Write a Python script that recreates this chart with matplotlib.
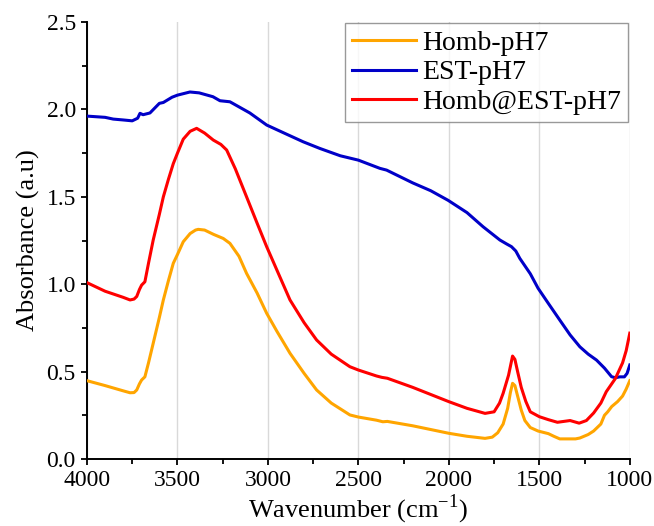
import matplotlib.pyplot as plt
import numpy as np

plt.rcParams['font.family'] = ['Liberation Serif', 'DejaVu Serif']
plt.rcParams['mathtext.fontset'] = 'custom'
plt.rcParams['mathtext.rm'] = 'Liberation Serif'

# Homb-pH7 (orange)
wn_homb = [4000, 3900, 3800, 3762, 3740, 3725, 3710, 3698, 3680, 3660, 3634, 3600,
           3578, 3550, 3523, 3500, 3468, 3430, 3400, 3385, 3350, 3300, 3247, 3210,
           3160, 3118, 3060, 3007, 2950, 2878, 2800, 2731, 2650, 2547, 2500, 2400,
           2365, 2340, 2200, 2000, 1900, 1800, 1760, 1730, 1700, 1675, 1660, 1648,
           1635, 1620, 1600, 1580, 1550, 1507, 1450, 1420, 1387, 1300, 1276, 1230,
           1200, 1160, 1140, 1122, 1100, 1068, 1040, 1020, 1000]
abs_homb = [0.448, 0.42, 0.39, 0.379, 0.38, 0.395, 0.43, 0.452, 0.47, 0.55, 0.662, 0.81,
            0.91, 1.02, 1.12, 1.17, 1.243, 1.29, 1.31, 1.314, 1.31, 1.285, 1.262, 1.234,
            1.16, 1.062, 0.95, 0.834, 0.73, 0.605, 0.49, 0.395, 0.32, 0.252, 0.24, 0.222,
            0.213, 0.215, 0.19, 0.147, 0.13, 0.118, 0.125, 0.15, 0.2, 0.29, 0.38, 0.433,
            0.42, 0.36, 0.28, 0.22, 0.18, 0.16, 0.145, 0.13, 0.115, 0.115, 0.12, 0.14,
            0.16, 0.2, 0.25, 0.27, 0.30, 0.328, 0.36, 0.40, 0.448]

# EST-pH7 (blue)
wn_est = [4000, 3900, 3855, 3800, 3750, 3720, 3707, 3690, 3652, 3600, 3578, 3530,
          3500, 3431, 3380, 3304, 3265, 3210, 3100, 3007, 2900, 2805, 2713, 2600,
          2500, 2381, 2344, 2200, 2100, 2004, 1900, 1811, 1718, 1680, 1654, 1630,
          1608, 1550, 1507, 1450, 1387, 1330, 1276, 1230, 1184, 1140, 1101, 1080,
          1055, 1030, 1015, 1000]
abs_est = [1.962, 1.955, 1.945, 1.94, 1.935, 1.95, 1.978, 1.97, 1.98, 2.035, 2.04, 2.07,
           2.082, 2.10, 2.095, 2.073, 2.05, 2.044, 1.98, 1.911, 1.86, 1.815, 1.777, 1.735,
           1.71, 1.663, 1.653, 1.58, 1.535, 1.48, 1.41, 1.329, 1.253, 1.23, 1.215, 1.19,
           1.148, 1.06, 0.977, 0.89, 0.795, 0.71, 0.642, 0.60, 0.566, 0.52, 0.471, 0.465,
           0.47, 0.47, 0.49, 0.538]

# Homb@EST-pH7 (red)
wn_mix = [4000, 3900, 3800, 3762, 3740, 3725, 3710, 3698, 3680, 3660, 3634, 3600,
          3578, 3550, 3523, 3500, 3468, 3430, 3394, 3350, 3302, 3260, 3228, 3180,
          3118, 3060, 3007, 2950, 2878, 2800, 2731, 2650, 2547, 2500, 2400, 2370,
          2340, 2200, 2000, 1900, 1800, 1750, 1720, 1700, 1670, 1648, 1635, 1620,
          1600, 1575, 1550, 1500, 1450, 1400, 1330, 1280, 1240, 1200, 1160, 1130,
          1080, 1040, 1020, 1000]
abs_mix = [1.009, 0.96, 0.925, 0.91, 0.915, 0.93, 0.97, 0.995, 1.014, 1.12, 1.253, 1.40,
           1.50, 1.60, 1.69, 1.75, 1.83, 1.875, 1.892, 1.865, 1.825, 1.80, 1.768, 1.66,
           1.50, 1.35, 1.215, 1.08, 0.91, 0.78, 0.681, 0.60, 0.528, 0.509, 0.475, 0.467,
           0.462, 0.41, 0.328, 0.29, 0.261, 0.27, 0.32, 0.376, 0.48, 0.589, 0.57, 0.50,
           0.41, 0.33, 0.27, 0.242, 0.225, 0.21, 0.22, 0.205, 0.22, 0.263, 0.32, 0.385,
           0.46, 0.55, 0.62, 0.72]

fig = plt.figure(figsize=(6.54, 5.26), dpi=100)
ax = fig.add_axes([0.133, 0.1274, 0.83, 0.8306])

lw = 2.2
ax.plot(wn_homb, abs_homb, color='#ffa500', lw=lw, label='Homb-pH7', zorder=3)
ax.plot(wn_est, abs_est, color='#0000c8', lw=lw, label='EST-pH7', zorder=3)
ax.plot(wn_mix, abs_mix, color='#ff0000', lw=lw, label='Homb@EST-pH7', zorder=3)

ax.set_xlim(4000, 1000)
ax.set_ylim(0, 2.5)
ax.set_xticks(np.arange(4000, 999, -500))
ax.set_xticks(np.arange(3750, 1000, -500), minor=True)
ax.set_yticks(np.arange(0, 2.51, 0.5))
ax.set_yticks(np.arange(0.25, 2.5, 0.5), minor=True)
ax.yaxis.set_major_formatter(plt.FormatStrFormatter('%.1f'))

ax.spines['right'].set_visible(False)
ax.spines['top'].set_visible(False)
for s in ['left', 'bottom']:
    ax.spines[s].set_linewidth(1.4)

ax.tick_params(which='major', direction='out', length=4.5, width=1.3, labelsize=17)
ax.tick_params(which='minor', direction='out', length=3.5, width=1.3)
ax.xaxis.grid(True, which='major', color='#d9d9d9', lw=1)
ax.set_axisbelow(True)

ax.set_xlabel(r'Wavenumber (cm$^{\mathregular{-1}}$)', fontsize=19, labelpad=1)
ax.set_ylabel('Absorbance (a.u)', fontsize=19, labelpad=5)

leg = ax.legend(loc='upper right', fontsize=20, frameon=True, fancybox=False,
                borderaxespad=0.05, handlelength=2.3, handletextpad=0.25,
                labelspacing=0.15, borderpad=0.25)
leg.get_frame().set_edgecolor('#808080')
leg.get_frame().set_linewidth(1.0)

plt.savefig('out.png', dpi=100)
